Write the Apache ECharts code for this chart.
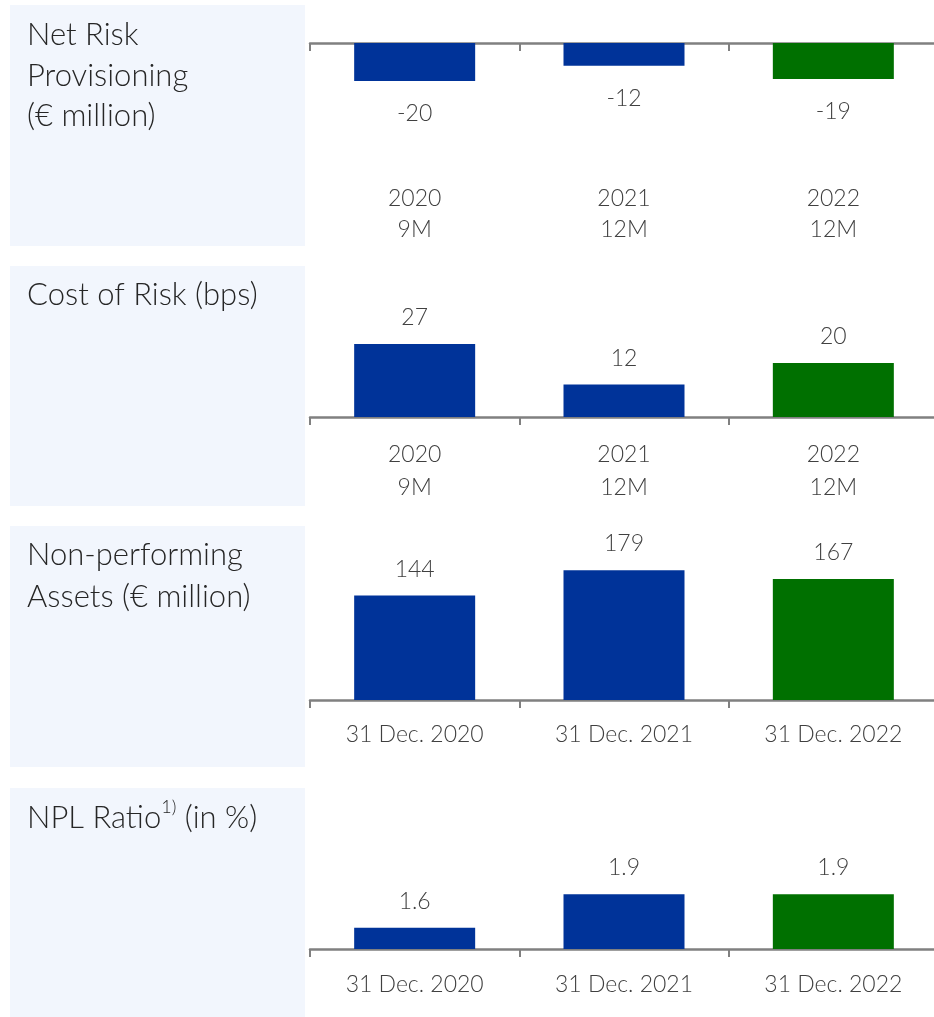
<!DOCTYPE html>
<html>
<head>
<meta charset="utf-8">
<script src="https://cdn.jsdelivr.net/npm/echarts@6/dist/echarts.min.js"></script>
<style>
  html, body { margin: 0; padding: 0; background: #fff; }
  #chart { width: 934px; height: 1017px; }
</style>
</head>
<body>
<div id="chart"></div>
<script>
// data
const periodLabels = ['2020\n9M', '2021\n12M', '2022\n12M'];
const dateLabels = ['31 Dec. 2020', '31 Dec. 2021', '31 Dec. 2022'];
const netRiskProvisioning = [-20, -12, -19];
const costOfRisk = [27, 12, 20];
const nonPerformingAssets = [144, 179, 167];
const nplRatio = [1.6, 1.9, 1.9];

const FONT = 'Lato, "Open Sans", sans-serif';
const barColors = ['#003399', '#003399', '#007000'];  // 2022 in green
const textGrey = '#404040';
const LABEL_SIZE = 23;

const chart = echarts.init(document.getElementById('chart'));

// light blue title boxes on the left
function box(top, height) {
  return {
    type: 'rect', left: 10, top: top, silent: true,
    shape: { width: 295, height: height },
    style: { fill: '#f2f6fd' }
  };
}

function baseAxis(gridIndex, extra) {
  return Object.assign({
    type: 'category',
    gridIndex: gridIndex,
    axisLine: { lineStyle: { color: '#808080', width: 2.5 } },
    axisTick: { show: true, length: 8, lineStyle: { color: '#808080', width: 2 } },
    axisLabel: { color: textGrey, fontFamily: FONT, fontWeight: 300, fontSize: LABEL_SIZE }
  }, extra);
}

function catLabel(lineHeight, margin) {
  return { color: textGrey, fontFamily: FONT, fontWeight: 300, fontSize: LABEL_SIZE,
           lineHeight: lineHeight, margin: margin };
}

function barSeries(idx, xIdx, values, pos, dist) {
  return {
    type: 'bar',
    xAxisIndex: xIdx,
    yAxisIndex: idx,
    data: values,
    barWidth: 121,
    itemStyle: {
      color: function (p) { return barColors[p.dataIndex]; }
    },
    label: {
      show: true, position: pos, distance: dist,
      color: textGrey, fontFamily: FONT, fontWeight: 300, fontSize: LABEL_SIZE
    }
  };
}

const titleStyle = { color: '#262626', fontFamily: FONT, fontWeight: 300, fontSize: 31 };

function grid(top, height) {
  return { left: 310, width: 628, top: top, height: height, outerBoundsMode: 'none' };
}

chart.setOption({
  animation: false,
  graphic: [box(5, 241), box(266, 240), box(526, 241), box(788, 240)],
  title: [
    { text: 'Net Risk\nProvisioning\n(€ million)', left: 27, top: 15, padding: 0,
      textStyle: Object.assign({ lineHeight: 40.5 }, titleStyle) },
    { text: 'Cost of Risk (bps)', left: 27, top: 275, padding: 0,
      textStyle: Object.assign({ lineHeight: 40 }, titleStyle) },
    { text: 'Non-performing\nAssets (€ million)', left: 27, top: 534, padding: 0,
      textStyle: Object.assign({ lineHeight: 42 }, titleStyle) },
    { text: 'NPL Ratio{sup|1)} (in %)', left: 27, top: 798, padding: 0,
      textStyle: Object.assign({
        lineHeight: 40,
        rich: { sup: { fontFamily: FONT, fontWeight: 300, fontSize: 18, lineHeight: 22,
                       verticalAlign: 'top', color: '#262626' } }
      }, titleStyle) }
  ],
  grid: [grid(43, 95), grid(309, 108), grid(555, 145), grid(883, 66)],
  xAxis: [
    baseAxis(0, { data: periodLabels, position: 'top',
      axisTick: { show: true, inside: true, length: 8, lineStyle: { color: '#808080', width: 2 } },
      axisLabel: { show: false } }),
    baseAxis(0, { data: periodLabels, position: 'bottom',
      axisLine: { show: false }, axisTick: { show: false },
      axisLabel: catLabel(31, 45) }),
    baseAxis(1, { data: periodLabels, axisLabel: catLabel(33, 21) }),
    baseAxis(2, { data: dateLabels, axisLabel: catLabel(30, 20) }),
    baseAxis(3, { data: dateLabels, axisLabel: catLabel(30, 21) })
  ],
  yAxis: [
    { type: 'value', gridIndex: 0, min: -50, max: 0, show: false },
    { type: 'value', gridIndex: 1, min: 0, max: 40, show: false },
    { type: 'value', gridIndex: 2, min: 0, max: 200, show: false },
    { type: 'value', gridIndex: 3, min: 1.41, max: 2.0, show: false }
  ],
  series: [
    barSeries(0, 0, netRiskProvisioning, 'bottom', 21),
    barSeries(1, 2, costOfRisk, 'top', 15),
    barSeries(2, 3, nonPerformingAssets, 'top', 15),
    barSeries(3, 4, nplRatio, 'top', 15)
  ]
});
</script>
</body>
</html>
